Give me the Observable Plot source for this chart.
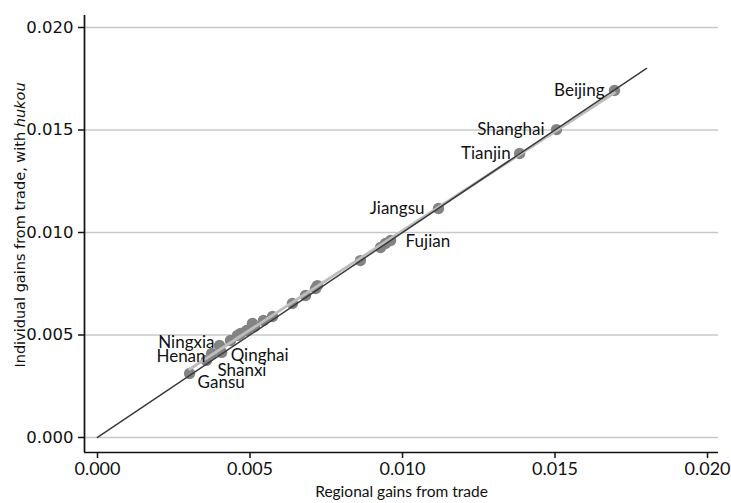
<!DOCTYPE html>
<html>
<head>
<meta charset="utf-8">
<script src="https://cdn.jsdelivr.net/npm/d3@7"></script>
<script src="https://cdn.jsdelivr.net/npm/@observablehq/plot@0.6"></script>
<style>
  html, body { margin: 0; padding: 0; background: #fff; }
  #chart svg { display: block; }
</style>
</head>
<body>
<div id="chart"></div>
<script>
// Gains from trade by province: regional (x) vs individual with hukou (y)
const regionalGains   = [0.01695, 0.01505, 0.01384, 0.01118, 0.00961, 0.00944, 0.00928, 0.00862,
                         0.00721, 0.00715, 0.00682, 0.00639, 0.00574, 0.00544, 0.00508, 0.00515,
                         0.00489, 0.00469, 0.00459, 0.00436, 0.00400, 0.00374, 0.00407, 0.00357, 0.00302];
const individualGains = [0.01693, 0.01502, 0.01385, 0.01117, 0.00961, 0.00946, 0.00927, 0.00863,
                         0.00741, 0.00727, 0.00693, 0.00654, 0.00590, 0.00571, 0.00556, 0.00541,
                         0.00522, 0.00507, 0.00498, 0.00473, 0.00449, 0.00410, 0.00415, 0.00376, 0.00312];
const pointLabels     = ["Beijing", "Shanghai", "Tianjin", "Jiangsu", "Fujian", "", "", "",
                         "", "", "", "", "", "", "", "",
                         "", "", "", "", "Ningxia", "Henan", "Qinghai", "Shanxi", "Gansu"];

// 45-degree reference line end points
const diagonal = [0, 0.018];

// Axis ticks
const axisTicks = [0, 0.005, 0.010, 0.015, 0.020];

// Axis titles
const xTitle = "Regional gains from trade";
const yTitleParts = ["Individual gains from trade, with ", "hukou"];

const data = regionalGains.map((x, i) => ({x, y: individualGains[i], label: pointLabels[i]}));

// Label placement relative to its point
const labelPlacement = {
  Beijing:  {anchor: "end",   dx: -10, dy: 0},
  Shanghai: {anchor: "end",   dx: -12, dy: 0},
  Tianjin:  {anchor: "end",   dx: -9,  dy: 0},
  Jiangsu:  {anchor: "end",   dx: -14, dy: 0},
  Fujian:   {anchor: "start", dx: 15,  dy: 1},
  Ningxia:  {anchor: "end",   dx: -5,  dy: -3},
  Henan:    {anchor: "end",   dx: -6,  dy: 3},
  Qinghai:  {anchor: "start", dx: 9,   dy: 3},
  Shanxi:   {anchor: "start", dx: 11,  dy: 10},
  Gansu:    {anchor: "start", dx: 8,   dy: 9}
};

const labelMarks = data.filter(d => d.label).map(d => {
  const p = labelPlacement[d.label];
  return Plot.text([d], {
    x: "x", y: "y", text: "label",
    textAnchor: p.anchor, dx: p.dx, dy: p.dy,
    fontFamily: "Lato", fontSize: 17, fill: "#111"
  });
});

const fmt = d3.format(".3f");
const xDomain = [-0.000426, 0.02036];
const yDomain = [-0.000732, 0.020585];

const chart = Plot.plot({
  width: 731,
  height: 503,
  marginLeft: 84,
  marginRight: 13,
  marginTop: 15,
  marginBottom: 51,
  x: {domain: xDomain},
  y: {domain: yDomain},
  marks: [
    Plot.gridY(axisTicks, {stroke: "#c8c8c8", strokeOpacity: 1, strokeWidth: 1.6}),
    Plot.dot(data, {x: "x", y: "y", r: 5.7, fill: "#838383", stroke: "none"}),
    Plot.linearRegressionY(data, {x: "x", y: "y", ci: 0, stroke: "#bdbdbd", strokeWidth: 2.8}),
    Plot.line(diagonal, {x: d => d, y: d => d, stroke: "#3a3a3a", strokeWidth: 1.5}),
    ...labelMarks,
    Plot.ruleX([xDomain[0]], {stroke: "#111", strokeWidth: 1.7}),
    Plot.ruleY([yDomain[0]], {stroke: "#111", strokeWidth: 1.7}),
    Plot.axisY({
      ticks: axisTicks, tickFormat: fmt, tickSize: 6, tickPadding: 5,
      fontFamily: "DejaVu Sans", fontSize: 16.5, stroke: "#111", strokeWidth: 1.5,
      fill: "#111", label: null
    }),
    Plot.axisX({
      ticks: axisTicks, tickFormat: fmt, tickSize: 6, tickPadding: 4,
      fontFamily: "Lato", fontSize: 18, stroke: "#111", strokeWidth: 1.5,
      fill: "#111", label: null
    }),
    Plot.text([xTitle], {
      frameAnchor: "bottom", dy: 44, text: d => d,
      fontFamily: "Lato", fontSize: 15.5, fill: "#111"
    }),
    Plot.text([yTitleParts.join("")], {
      frameAnchor: "left", textAnchor: "middle", dx: -64, dy: -9, rotate: -90, text: d => d,
      fontFamily: "DejaVu Sans", fontSize: 14.5, fill: "#111"
    })
  ]
});

// Set the word "hukou" in italics inside the y-axis title
d3.select(chart).selectAll("text").each(function() {
  if (this.textContent === yTitleParts.join("")) {
    const t = d3.select(this);
    t.text(null);
    t.append("tspan").text(yTitleParts[0]);
    t.append("tspan").attr("font-style", "italic").text(yTitleParts[1]);
  }
});

document.getElementById("chart").appendChild(chart);
</script>
</body>
</html>
